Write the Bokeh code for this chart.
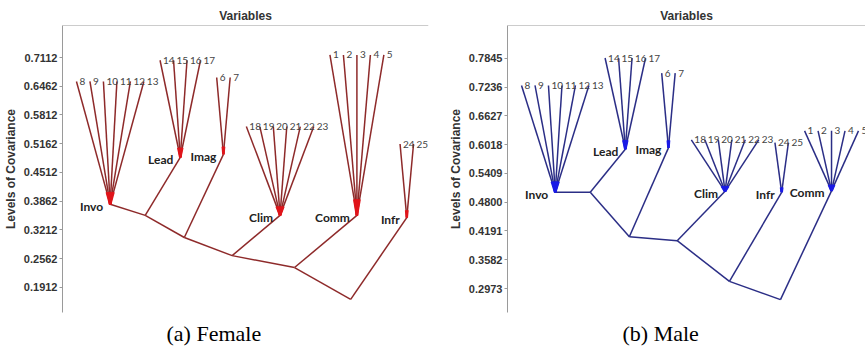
from bokeh.plotting import figure
from bokeh.layouts import row
from bokeh.models import FixedTicker, PrintfTickFormatter, Span, Title, Range1d
from bokeh.core.properties import value
from bokeh.embed import file_html
from bokeh.resources import INLINE

# ---------------- data: (a) Female ----------------
f_groups = ["Invo", "Lead", "Imag", "Clim", "Comm", "Infr"]
f_leaves = [[8, 9, 10, 11, 12, 13], [14, 15, 16, 17], [6, 7],
            [18, 19, 20, 21, 22, 23], [1, 2, 3, 4, 5], [24, 25]]
f_leaf_height = [0.657, 0.705, 0.666, 0.555, 0.717, 0.5155]
f_node_height = [0.379, 0.485, 0.492, 0.354, 0.354, 0.349]
f_merge_height = [0.354, 0.304, 0.263, 0.236, 0.164]
f_ticks = [0.1912, 0.2562, 0.3212, 0.3862, 0.4512, 0.5162, 0.5812, 0.6462, 0.7112]

# ---------------- data: (b) Male ----------------
m_groups = ["Invo", "Lead", "Imag", "Clim", "Infr", "Comm"]
m_leaves = [[8, 9, 10, 11, 12, 13], [14, 15, 16, 17], [6, 7],
            [18, 19, 20, 21, 22, 23], [24, 25], [1, 2, 3, 4, 5]]
m_leaf_height = [0.727, 0.785, 0.753, 0.612, 0.606, 0.631]
m_node_height = [0.501, 0.592, 0.595, 0.503, 0.501, 0.504]
m_merge_height = [0.501, 0.407, 0.3986, 0.3125, 0.274]
m_ticks = [0.2973, 0.3582, 0.4191, 0.4800, 0.5409, 0.6018, 0.6627, 0.7236, 0.7845]

GROUP_GAP = 0.2


def build(groups, leaves, leaf_h, node_h, merge_h, ticks, yr, xr, color, hot,
          caption, cap_offset, title_offset, width, min_left, min_right):
    p = figure(width=width, height=353, output_backend="svg", toolbar_location=None,
               x_axis_location=None, y_range=Range1d(*yr), x_range=Range1d(*xr),
               min_border_left=min_left, min_border_right=min_right,
               min_border_top=25, min_border_bottom=41)
    p.grid.visible = False
    p.outline_line_color = None
    p.background_fill_color = "white"
    p.border_fill_color = "white"

    x0, y0, x1, y1 = [], [], [], []
    hx0, hy0, hx1, hy1 = [], [], [], []
    lx, ly, lt = [], [], []
    nx = []
    k = 0
    for g, lv in enumerate(leaves):
        xs = [k + i + GROUP_GAP * g for i in range(len(lv))]
        k += len(lv)
        cx = sum(xs) / len(xs)
        nx.append(cx)
        for xv, name in zip(xs, lv):
            x0.append(cx); y0.append(node_h[g]); x1.append(xv); y1.append(leaf_h[g])
            f = 0.1
            hx0.append(cx); hy0.append(node_h[g])
            hx1.append(cx + f * (xv - cx)); hy1.append(node_h[g] + f * (leaf_h[g] - node_h[g]))
            lx.append(xv); ly.append(leaf_h[g]); lt.append(str(name))

    # chain of merges
    cur_x, cur_y = nx[0], node_h[0]
    for g in range(1, len(groups)):
        mx = (cur_x + nx[g]) / 2.0
        my = merge_h[g - 1]
        x0 += [cur_x, nx[g]]; y0 += [cur_y, node_h[g]]
        x1 += [mx, mx]; y1 += [my, my]
        cur_x, cur_y = mx, my

    p.segment(x0=x0, y0=y0, x1=x1, y1=y1, line_color=color, line_width=1.5)
    p.segment(x0=hx0, y0=hy0, x1=hx1, y1=hy1, line_color=hot, line_width=2.5)

    p.text(x=lx, y=ly, text=lt, x_offset=3, text_baseline="middle",
           text_font=value("Lato"), text_font_size="10px", text_color="#444444")
    p.text(x=nx, y=node_h, text=groups, x_offset=-7, y_offset=2, text_align="right",
           text_baseline="middle", text_font=value("Lato"), text_font_size="12px",
           text_font_style="bold", text_color="#222222")

    p.add_layout(Span(location=yr[1], dimension="width", line_color="#9a9a9a", line_width=1.2))

    ax = p.yaxis[0]
    ax.ticker = FixedTicker(ticks=ticks)
    ax.formatter = PrintfTickFormatter(format="%.4f")
    ax.axis_label = "Levels of Covariance"
    ax.axis_label_text_font = "Liberation Sans"
    ax.axis_label_text_font_size = "12px"
    ax.axis_label_text_font_style = "bold"
    ax.axis_label_text_color = "#333333"
    ax.axis_label_standoff = 3
    ax.major_label_text_font = "Liberation Sans"
    ax.major_label_text_font_size = "11px"
    ax.major_label_text_font_style = "bold"
    ax.major_label_text_color = "#333333"
    ax.major_label_standoff = 2
    ax.major_tick_out = 3
    ax.major_tick_in = 0
    ax.minor_tick_out = 0
    ax.minor_tick_in = 0
    ax.axis_line_color = "#9a9a9a"
    ax.major_tick_line_color = "#9a9a9a"

    p.title.text = "Variables"
    p.title.align = "center"
    p.title.offset = title_offset
    p.title.text_font = "Liberation Sans"
    p.title.text_font_size = "12px"
    p.title.text_font_style = "bold"
    p.title.text_color = "#333333"
    p.title.standoff = 5

    p.add_layout(Title(text=caption, align="left", offset=cap_offset,
                       text_font="Liberation Serif", text_font_size="22px",
                       text_font_style="normal", text_color="black", standoff=13), "below")
    return p


left = build(f_groups, f_leaves, f_leaf_height, f_node_height, f_merge_height, f_ticks,
             (0.1343, 0.7836), (-1.035, 26.11), "#8e2a2a", "#e0141a",
             "(a) Female", 104, 0, 430, 61, 2)
right = build(m_groups, m_leaves, m_leaf_height, m_node_height, m_merge_height, m_ticks,
              (0.2467, 0.8538), (-1.04, 25.52), "#2b2e86", "#1a1ae6",
              "(b) Male", 115, 6, 435, 77, 0)

layout = row(left, right)
open("out.html", "w").write(file_html(layout, INLINE))
